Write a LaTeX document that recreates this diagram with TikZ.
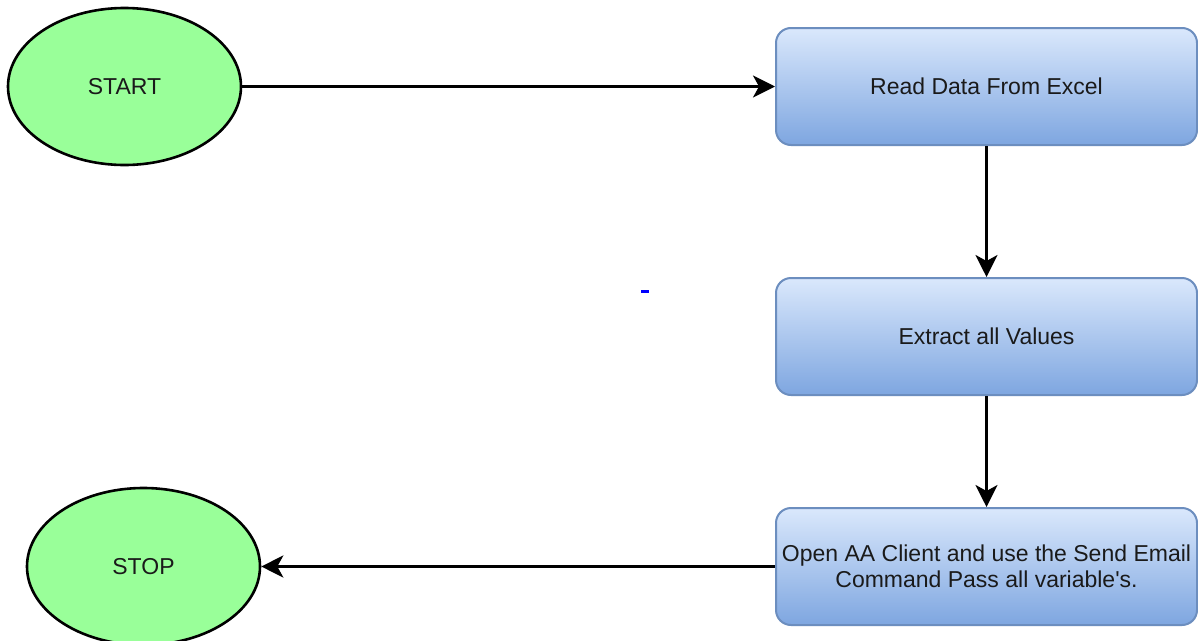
\documentclass[tikz,border=0pt]{standalone}
\usepackage{fontspec}
\setmainfont{Liberation Sans}
\usetikzlibrary{shapes.geometric,arrows.meta,shadings}
\definecolor{termfill}{HTML}{99FF99}
\definecolor{boxtop}{HTML}{DAE8FC}
\definecolor{boxbot}{HTML}{7EA6E0}
\definecolor{boxline}{HTML}{6C8EBF}
\definecolor{txt}{HTML}{1A1A1A}
\begin{document}
\begin{tikzpicture}[x=1pt,y=-1pt,
    term/.style={ellipse,draw=black,line width=2.6pt,fill=termfill,minimum width=233pt,minimum height=157pt,
      font=\fontsize{23}{25.5}\selectfont,text=txt,inner sep=0pt},
    stepbox/.style={rectangle,rounded corners=15pt,draw=boxline,line width=2pt,top color=boxtop,bottom color=boxbot,
      minimum width=421pt,minimum height=117pt,align=center,font=\fontsize{23}{25.5}\selectfont,text=txt,inner sep=2pt},
    flow/.style={line width=3pt,-{Stealth[length=22pt,width=22pt,inset=6pt]}}]
      \useasboundingbox (0,0) rectangle (1198,640);
      \fill[white] (0,0) rectangle (1198,640);
      \node[term] (start) at (124.5,86.5) {START};
      \node[stepbox] (read) at (986.5,86.5) {Read Data From Excel};
      \node[stepbox] (extract) at (986.5,336.5) {Extract all Values};
      \node[stepbox] (send) at (986.5,566.5) {Open AA Client and use the Send Email\\Command Pass all variable\textquotesingle s.};
      \node[term] (stop) at (143.5,566.5) {STOP};
      \fill[blue] (641,289.5) rectangle (649,292.5);
      \draw[flow] (start) -- (read);
      \draw[flow] (read) -- (extract);
      \draw[flow] (extract) -- (send);
      \draw[flow] (send) -- (stop);
    \end{tikzpicture}
\end{document}
